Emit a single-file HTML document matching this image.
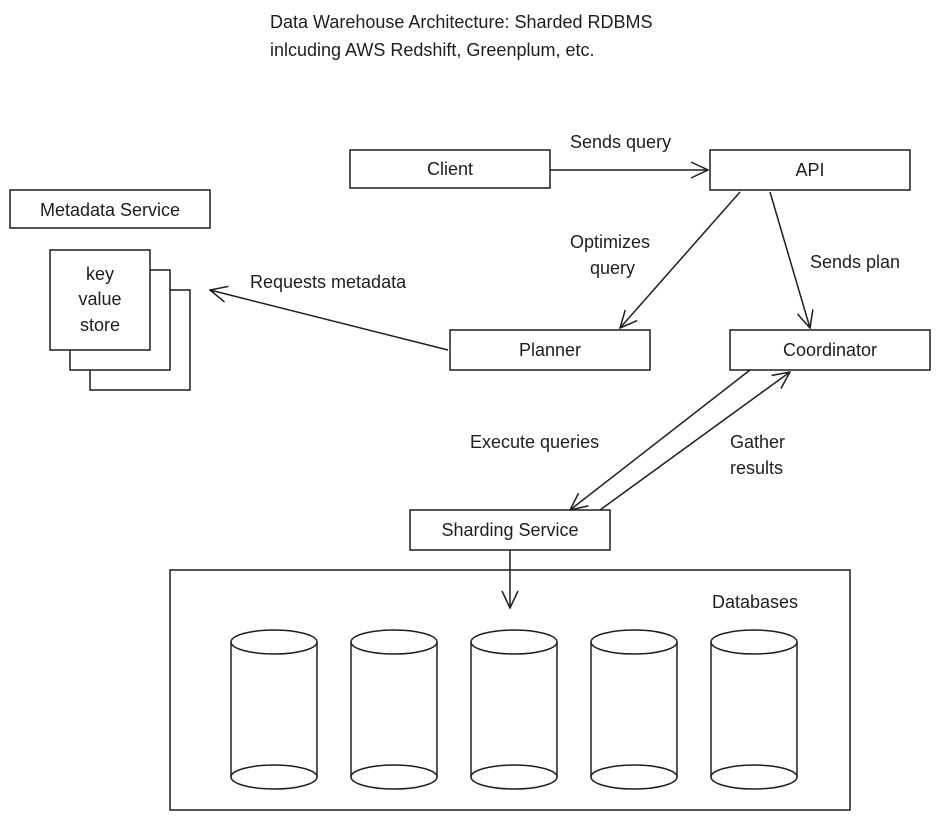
<!DOCTYPE html>
<html><head><meta charset="utf-8"><style>
html,body{margin:0;padding:0;background:#fff;}
svg{display:block}
text{font-family:"Liberation Sans",sans-serif;font-size:18px;fill:#1e1e1e}
</style></head><body>
<svg width="940" height="820" viewBox="0 0 940 820" xmlns="http://www.w3.org/2000/svg">
<defs>
<marker id="a" viewBox="0 0 20 20" refX="19" refY="10" markerWidth="20" markerHeight="20" markerUnits="userSpaceOnUse" orient="auto">
<path d="M2 2 L19 10 L2 18" fill="none" stroke="#1e1e1e" stroke-width="1.5"/>
</marker>
</defs>
<g fill="none" stroke="#1e1e1e" stroke-width="1.5">
<rect x="350" y="150" width="200" height="38"/>
<rect x="710" y="150" width="200" height="40"/>
<rect x="10" y="190" width="200" height="38"/>
<rect x="90" y="290" width="100" height="100" fill="#fff"/>
<rect x="70" y="270" width="100" height="100" fill="#fff"/>
<rect x="50" y="250" width="100" height="100" fill="#fff"/>
<rect x="450" y="330" width="200" height="40"/>
<rect x="730" y="330" width="200" height="40"/>
<rect x="410" y="510" width="200" height="40"/>
<rect x="170" y="570" width="680" height="240"/>
<line x1="550" y1="170" x2="708" y2="170" marker-end="url(#a)"/>
<line x1="448" y1="350" x2="210" y2="290" marker-end="url(#a)"/>
<line x1="740" y1="192" x2="620" y2="328" marker-end="url(#a)"/>
<line x1="770" y1="192" x2="810" y2="328" marker-end="url(#a)"/>
<line x1="750" y1="370" x2="570" y2="510" marker-end="url(#a)"/>
<line x1="600" y1="510" x2="790" y2="372" marker-end="url(#a)"/>
<line x1="510" y1="550" x2="510" y2="608" marker-end="url(#a)"/>
<g id="c">
<ellipse cx="274" cy="642" rx="43" ry="12"/>
<ellipse cx="274" cy="777" rx="43" ry="12"/>
<line x1="231" y1="642" x2="231" y2="777"/>
<line x1="317" y1="642" x2="317" y2="777"/>
</g>
<use href="#c" x="120"/>
<use href="#c" x="240"/>
<use href="#c" x="360"/>
<use href="#c" x="480"/>
</g>
<text x="270" y="28">Data Warehouse Architecture: Sharded RDBMS</text>
<text x="270" y="56">inlcuding AWS Redshift, Greenplum, etc.</text>
<text x="450" y="175" text-anchor="middle">Client</text>
<text x="810" y="176" text-anchor="middle">API</text>
<text x="570" y="148">Sends query</text>
<text x="110" y="216" text-anchor="middle">Metadata Service</text>
<text x="100" y="280" text-anchor="middle">key</text>
<text x="100" y="305" text-anchor="middle">value</text>
<text x="100" y="331" text-anchor="middle">store</text>
<text x="250" y="288">Requests metadata</text>
<text x="570" y="248">Optimizes</text>
<text x="590" y="274">query</text>
<text x="810" y="268">Sends plan</text>
<text x="550" y="356" text-anchor="middle">Planner</text>
<text x="830" y="356" text-anchor="middle">Coordinator</text>
<text x="470" y="448">Execute queries</text>
<text x="730" y="448">Gather</text>
<text x="730" y="474">results</text>
<text x="510" y="536" text-anchor="middle">Sharding Service</text>
<text x="712" y="608">Databases</text>
</svg>
</body></html>
